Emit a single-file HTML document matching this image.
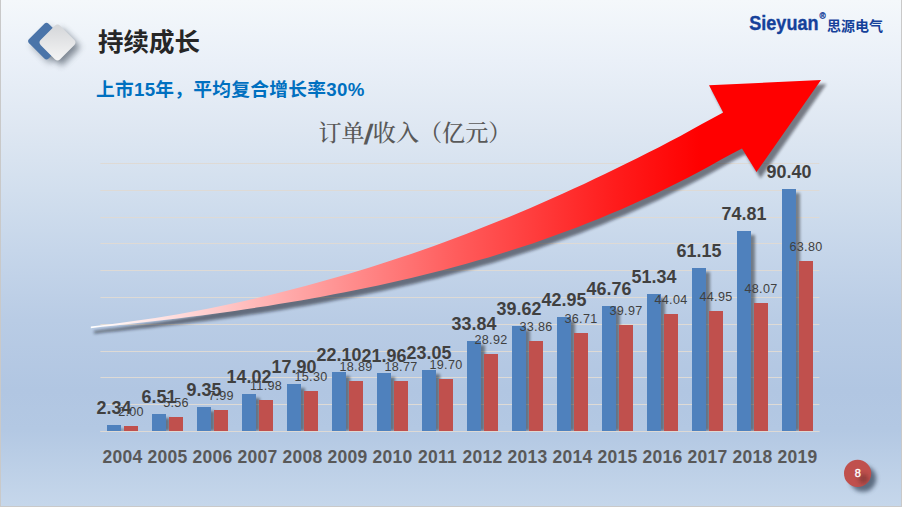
<!DOCTYPE html>
<html lang="zh-CN"><head><meta charset="utf-8"><title>持续成长</title>
<style>
html,body{margin:0;padding:0;}
body{width:902px;height:507px;overflow:hidden;position:relative;
background:linear-gradient(to bottom,#f4f8fb 0px,#eaf0f8 60px,#dee7f2 130px,#d2dfee 190px,#c6d6ea 250px,#b9cce5 320px,#b1c6e2 390px,#b3c8e3 430px,#bdd0e7 470px,#c6d7eb 507px);
font-family:"Liberation Sans","Noto Sans CJK SC",sans-serif;}
svg{position:absolute;left:0;top:0;}
.edge{position:absolute;background:#c9c9c9;}
</style></head><body>
<svg width="902" height="507" viewBox="0 0 902 507">
<defs>
<linearGradient id="ag" gradientUnits="userSpaceOnUse" x1="91" y1="0" x2="700" y2="0">
<stop offset="0" stop-color="#ffffff"/>
<stop offset="0.11" stop-color="#ffe4e4"/>
<stop offset="0.33" stop-color="#ffa8a8"/>
<stop offset="0.60" stop-color="#ff5c5c"/>
<stop offset="0.86" stop-color="#ff1c1c"/>
<stop offset="1" stop-color="#ff0000"/>
</linearGradient>
<linearGradient id="dg" x1="0" y1="0" x2="1" y2="1">
<stop offset="0" stop-color="#d3d5d8"/>
<stop offset="1" stop-color="#f6f6f6"/>
</linearGradient>
<filter id="bsh" x="-50%" y="-10%" width="250%" height="130%">
<feGaussianBlur stdDeviation="1.4"/>
</filter>
<filter id="ash" x="-5%" y="-10%" width="115%" height="130%">
<feGaussianBlur stdDeviation="1.7"/>
</filter>
<filter id="dsh" x="-40%" y="-40%" width="200%" height="200%">
<feGaussianBlur stdDeviation="3"/>
</filter>
<filter id="csh" x="-50%" y="-50%" width="220%" height="220%">
<feGaussianBlur stdDeviation="2.2"/>
</filter>
</defs>

<g stroke="#dedad5" stroke-width="1" fill="none">
<line x1="100.4" y1="431.50" x2="819.4" y2="431.50"/>
<line x1="100.4" y1="404.50" x2="819.4" y2="404.50"/>
<line x1="100.4" y1="377.50" x2="819.4" y2="377.50"/>
<line x1="100.4" y1="351.50" x2="819.4" y2="351.50"/>
<line x1="100.4" y1="324.50" x2="819.4" y2="324.50"/>
<line x1="100.4" y1="297.50" x2="819.4" y2="297.50"/>
<line x1="100.4" y1="270.50" x2="819.4" y2="270.50"/>
<line x1="100.4" y1="243.50" x2="819.4" y2="243.50"/>
<line x1="100.4" y1="217.50" x2="819.4" y2="217.50"/>
<line x1="100.4" y1="190.50" x2="819.4" y2="190.50"/>
<line x1="100.4" y1="163.50" x2="819.4" y2="163.50"/>
</g>
<clipPath id="bc"><rect x="0" y="0" width="902" height="431"/></clipPath>
<g clip-path="url(#bc)"><g fill="#000000" opacity="0.42" filter="url(#bsh)">
<rect x="111.00" y="429.00" width="14" height="2.00"/>
<rect x="156.00" y="418.00" width="14" height="13.00"/>
<rect x="201.00" y="411.00" width="14" height="20.00"/>
<rect x="246.00" y="398.00" width="14" height="33.00"/>
<rect x="291.00" y="388.00" width="14" height="43.00"/>
<rect x="336.00" y="376.00" width="14" height="55.00"/>
<rect x="381.00" y="377.00" width="14" height="54.00"/>
<rect x="426.00" y="374.00" width="14" height="57.00"/>
<rect x="471.00" y="345.00" width="14" height="86.00"/>
<rect x="516.00" y="330.00" width="14" height="101.00"/>
<rect x="561.00" y="321.00" width="14" height="110.00"/>
<rect x="606.00" y="310.00" width="14" height="121.00"/>
<rect x="651.00" y="298.00" width="14" height="133.00"/>
<rect x="696.00" y="272.00" width="14" height="159.00"/>
<rect x="741.00" y="235.00" width="14" height="196.00"/>
<rect x="786.00" y="193.00" width="14" height="238.00"/>
</g></g>
<rect x="107.00" y="425.00" width="14" height="6.00" fill="#4f81bd"/>
<rect x="124.00" y="426.00" width="14" height="5.00" fill="#c0504d"/>
<rect x="152.00" y="414.00" width="14" height="17.00" fill="#4f81bd"/>
<rect x="169.00" y="417.00" width="14" height="14.00" fill="#c0504d"/>
<rect x="197.00" y="407.00" width="14" height="24.00" fill="#4f81bd"/>
<rect x="214.00" y="410.00" width="14" height="21.00" fill="#c0504d"/>
<rect x="242.00" y="394.00" width="14" height="37.00" fill="#4f81bd"/>
<rect x="259.00" y="400.00" width="14" height="31.00" fill="#c0504d"/>
<rect x="287.00" y="384.00" width="14" height="47.00" fill="#4f81bd"/>
<rect x="304.00" y="391.00" width="14" height="40.00" fill="#c0504d"/>
<rect x="332.00" y="372.00" width="14" height="59.00" fill="#4f81bd"/>
<rect x="349.00" y="381.00" width="14" height="50.00" fill="#c0504d"/>
<rect x="377.00" y="373.00" width="14" height="58.00" fill="#4f81bd"/>
<rect x="394.00" y="381.00" width="14" height="50.00" fill="#c0504d"/>
<rect x="422.00" y="370.00" width="14" height="61.00" fill="#4f81bd"/>
<rect x="439.00" y="379.00" width="14" height="52.00" fill="#c0504d"/>
<rect x="467.00" y="341.00" width="14" height="90.00" fill="#4f81bd"/>
<rect x="484.00" y="354.00" width="14" height="77.00" fill="#c0504d"/>
<rect x="512.00" y="326.00" width="14" height="105.00" fill="#4f81bd"/>
<rect x="529.00" y="341.00" width="14" height="90.00" fill="#c0504d"/>
<rect x="557.00" y="317.00" width="14" height="114.00" fill="#4f81bd"/>
<rect x="574.00" y="333.00" width="14" height="98.00" fill="#c0504d"/>
<rect x="602.00" y="306.00" width="14" height="125.00" fill="#4f81bd"/>
<rect x="619.00" y="325.00" width="14" height="106.00" fill="#c0504d"/>
<rect x="647.00" y="294.00" width="14" height="137.00" fill="#4f81bd"/>
<rect x="664.00" y="314.00" width="14" height="117.00" fill="#c0504d"/>
<rect x="692.00" y="268.00" width="14" height="163.00" fill="#4f81bd"/>
<rect x="709.00" y="311.00" width="14" height="120.00" fill="#c0504d"/>
<rect x="737.00" y="231.00" width="14" height="200.00" fill="#4f81bd"/>
<rect x="754.00" y="303.00" width="14" height="128.00" fill="#c0504d"/>
<rect x="782.00" y="189.00" width="14" height="242.00" fill="#4f81bd"/>
<rect x="799.00" y="261.00" width="14" height="170.00" fill="#c0504d"/>
<line x1="100.4" y1="431.5" x2="819.4" y2="431.5" stroke="#dedad5" stroke-width="1"/>
<g font-family="'Liberation Sans',sans-serif" text-anchor="middle">
<g font-size="17.9" font-weight="bold" fill="#404040">
<text x="114.0" y="413.8">2.34</text>
<text x="159.0" y="402.8">6.51</text>
<text x="204.0" y="395.8">9.35</text>
<text x="249.0" y="382.8">14.02</text>
<text x="294.0" y="372.8">17.90</text>
<text x="339.0" y="360.8">22.10</text>
<text x="384.0" y="361.8">21.96</text>
<text x="429.0" y="358.8">23.05</text>
<text x="474.0" y="329.8">33.84</text>
<text x="519.0" y="314.8">39.62</text>
<text x="564.0" y="305.8">42.95</text>
<text x="609.0" y="294.8">46.76</text>
<text x="654.0" y="282.8">51.34</text>
<text x="699.0" y="256.8">61.15</text>
<text x="744.0" y="219.8">74.81</text>
<text x="789.0" y="177.8">90.40</text>
</g>
<g font-size="12.6" fill="#404040" letter-spacing="0.3">
<text x="131.0" y="416.1">2.00</text>
<text x="176.0" y="407.1">5.56</text>
<text x="221.0" y="400.1">7.99</text>
<text x="266.0" y="390.1">11.98</text>
<text x="311.0" y="381.1">15.30</text>
<text x="356.0" y="371.1">18.89</text>
<text x="401.0" y="371.1">18.77</text>
<text x="446.0" y="369.1">19.70</text>
<text x="491.0" y="344.1">28.92</text>
<text x="536.0" y="331.1">33.86</text>
<text x="581.0" y="323.1">36.71</text>
<text x="626.0" y="315.1">39.97</text>
<text x="671.0" y="304.1">44.04</text>
<text x="716.0" y="301.1">44.95</text>
<text x="761.0" y="293.1">48.07</text>
<text x="806.0" y="251.1">63.80</text>
</g>
<g font-size="17.5" font-weight="bold" fill="#595959" letter-spacing="0.3">
<text x="122.5" y="462.5">2004</text>
<text x="167.5" y="462.5">2005</text>
<text x="212.5" y="462.5">2006</text>
<text x="257.5" y="462.5">2007</text>
<text x="302.5" y="462.5">2008</text>
<text x="347.5" y="462.5">2009</text>
<text x="392.5" y="462.5">2010</text>
<text x="437.5" y="462.5">2011</text>
<text x="482.5" y="462.5">2012</text>
<text x="527.5" y="462.5">2013</text>
<text x="572.5" y="462.5">2014</text>
<text x="617.5" y="462.5">2015</text>
<text x="662.5" y="462.5">2016</text>
<text x="707.5" y="462.5">2017</text>
<text x="752.5" y="462.5">2018</text>
<text x="797.5" y="462.5">2019</text>
</g>
</g>
<path d="M90.8,326.6 L101.7,325.2 L112.4,323.9 L123.2,322.5 L133.9,321.0 L144.6,319.5 L155.3,317.9 L166.0,316.2 L176.7,314.4 L187.5,312.6 L198.2,310.6 L208.9,308.5 L219.6,306.3 L230.3,304.1 L241.0,301.7 L251.8,299.3 L262.5,296.8 L273.2,294.2 L283.9,291.6 L294.6,288.8 L305.3,286.0 L316.1,283.1 L326.8,280.1 L337.5,277.0 L348.2,273.9 L358.9,270.7 L369.6,267.4 L380.4,264.1 L391.1,260.6 L401.8,257.1 L412.5,253.5 L423.2,249.8 L433.9,245.9 L444.7,242.0 L455.4,238.0 L466.1,234.0 L476.8,229.8 L487.5,225.6 L498.2,221.3 L509.0,216.9 L519.7,212.4 L530.4,207.9 L541.1,203.2 L551.8,198.5 L562.5,193.7 L573.3,188.8 L584.0,183.9 L594.7,178.8 L605.4,173.7 L616.1,168.6 L626.8,163.3 L637.6,158.0 L648.3,152.6 L659.0,147.2 L669.7,141.6 L680.4,135.9 L691.1,130.0 L701.9,124.1 L712.6,118.2 L723.2,112.6 L709,85.3 L821,80 L756.5,172 L742.0,148.6 L731.4,153.9 L720.3,160.1 L709.3,166.2 L698.2,172.2 L687.2,178.0 L676.2,183.6 L665.1,189.1 L654.1,194.4 L643.0,199.5 L632.0,204.5 L621.0,209.4 L609.9,214.1 L598.9,218.7 L587.8,223.1 L576.8,227.4 L565.7,231.6 L554.7,235.6 L543.7,239.6 L532.6,243.4 L521.6,247.1 L510.5,250.6 L499.5,254.1 L488.5,257.4 L477.4,260.6 L466.4,263.8 L455.3,266.8 L444.3,269.7 L433.3,272.6 L422.2,275.3 L411.2,277.9 L400.1,280.5 L389.1,283.0 L378.1,285.4 L367.0,287.7 L356.0,290.0 L344.9,292.2 L333.9,294.3 L322.9,296.4 L311.8,298.4 L300.8,300.4 L289.7,302.3 L278.7,304.1 L267.7,305.9 L256.6,307.6 L245.6,309.3 L234.5,310.9 L223.5,312.4 L212.4,313.9 L201.4,315.4 L190.4,316.8 L179.3,318.2 L168.3,319.5 L157.2,320.8 L146.2,322.1 L135.2,323.3 L124.1,324.5 L113.1,325.7 L102.0,326.8 L90.8,328.2 Z" fill="#0c1016" stroke="#0c1016" stroke-width="1.5" opacity="0.5" filter="url(#ash)" transform="translate(4,4.8)"/>
<path d="M90.8,326.6 L101.7,325.2 L112.4,323.9 L123.2,322.5 L133.9,321.0 L144.6,319.5 L155.3,317.9 L166.0,316.2 L176.7,314.4 L187.5,312.6 L198.2,310.6 L208.9,308.5 L219.6,306.3 L230.3,304.1 L241.0,301.7 L251.8,299.3 L262.5,296.8 L273.2,294.2 L283.9,291.6 L294.6,288.8 L305.3,286.0 L316.1,283.1 L326.8,280.1 L337.5,277.0 L348.2,273.9 L358.9,270.7 L369.6,267.4 L380.4,264.1 L391.1,260.6 L401.8,257.1 L412.5,253.5 L423.2,249.8 L433.9,245.9 L444.7,242.0 L455.4,238.0 L466.1,234.0 L476.8,229.8 L487.5,225.6 L498.2,221.3 L509.0,216.9 L519.7,212.4 L530.4,207.9 L541.1,203.2 L551.8,198.5 L562.5,193.7 L573.3,188.8 L584.0,183.9 L594.7,178.8 L605.4,173.7 L616.1,168.6 L626.8,163.3 L637.6,158.0 L648.3,152.6 L659.0,147.2 L669.7,141.6 L680.4,135.9 L691.1,130.0 L701.9,124.1 L712.6,118.2 L723.2,112.6 L709,85.3 L821,80 L756.5,172 L742.0,148.6 L731.4,153.9 L720.3,160.1 L709.3,166.2 L698.2,172.2 L687.2,178.0 L676.2,183.6 L665.1,189.1 L654.1,194.4 L643.0,199.5 L632.0,204.5 L621.0,209.4 L609.9,214.1 L598.9,218.7 L587.8,223.1 L576.8,227.4 L565.7,231.6 L554.7,235.6 L543.7,239.6 L532.6,243.4 L521.6,247.1 L510.5,250.6 L499.5,254.1 L488.5,257.4 L477.4,260.6 L466.4,263.8 L455.3,266.8 L444.3,269.7 L433.3,272.6 L422.2,275.3 L411.2,277.9 L400.1,280.5 L389.1,283.0 L378.1,285.4 L367.0,287.7 L356.0,290.0 L344.9,292.2 L333.9,294.3 L322.9,296.4 L311.8,298.4 L300.8,300.4 L289.7,302.3 L278.7,304.1 L267.7,305.9 L256.6,307.6 L245.6,309.3 L234.5,310.9 L223.5,312.4 L212.4,313.9 L201.4,315.4 L190.4,316.8 L179.3,318.2 L168.3,319.5 L157.2,320.8 L146.2,322.1 L135.2,323.3 L124.1,324.5 L113.1,325.7 L102.0,326.8 L90.8,328.2 Z" fill="url(#ag)"/>
<g font-family="'Liberation Serif','Noto Serif CJK SC',serif" font-size="23.1" font-weight="500" fill="#595959">
<text x="318.5" y="141.3">订单</text>
<text x="372.8" y="141.3">收入（亿元）</text>
</g>
<text transform="translate(363.6,143.6) skewX(-7)" font-family="'Liberation Sans',sans-serif" font-weight="bold" font-size="28" fill="#595959">/</text>
<g>
<rect x="-13.8" y="-13.8" width="27.6" height="27.6" rx="3" transform="translate(49.5,45) rotate(45)" fill="#3d4856" opacity="0.4" filter="url(#dsh)"/>
<rect x="-13.7" y="-13.7" width="27.4" height="27.4" rx="3" transform="translate(61.5,47) rotate(45)" fill="#3d4856" opacity="0.6" filter="url(#dsh)"/>
<rect x="-13.8" y="-13.8" width="27.6" height="27.6" rx="3" transform="translate(46.5,41.1) rotate(45)" fill="#4a74a9"/>
<rect x="-13.7" y="-13.7" width="27.4" height="27.4" rx="3.8" transform="translate(57.5,42.5) rotate(45)" fill="url(#dg)"/>
</g>
<text x="98" y="50.5" font-family="'Liberation Sans','Noto Sans CJK SC',sans-serif" font-weight="bold" font-size="25.5" fill="#262626">持续成长</text>
<text x="96" y="96" font-family="'Liberation Sans','Noto Sans CJK SC',sans-serif" font-weight="bold" font-size="18.7" letter-spacing="0.3" fill="#0070c0">上市15年，平均复合增长率30%</text>
<g fill="#15419a" font-weight="bold">
<text transform="translate(749.3,29.5) scale(0.93,1)" font-family="'Liberation Sans',sans-serif" font-size="19.4" stroke="#15419a" stroke-width="0.35">Sieyuan</text>
<text x="819.6" y="18.9" font-family="'Liberation Sans',sans-serif" font-size="8.4" stroke="#15419a" stroke-width="0.3">®</text>
<text x="827" y="30.5" font-family="'Liberation Sans','Noto Sans CJK SC',sans-serif" font-size="14">思源电气</text>
</g>
<clipPath id="cc"><circle cx="857.6" cy="473.4" r="13.6"/></clipPath>
<circle cx="863" cy="478.6" r="13.2" fill="#3f4f63" opacity="0.78" filter="url(#csh)"/>
<circle cx="857.6" cy="473.4" r="13.6" fill="#c0504d"/>
<g clip-path="url(#cc)"><circle cx="863.5" cy="479" r="5" fill="#5a2a2a" opacity="0.45" filter="url(#csh)"/></g>
<text x="857.8" y="476.9" text-anchor="middle" font-family="'Liberation Sans',sans-serif" font-size="11" fill="#ffffff" stroke="#ffffff" stroke-width="0.35">8</text>
</svg>
<div class="edge" style="left:0;top:0;width:1px;height:507px"></div>
<div class="edge" style="right:0;top:0;width:1px;height:507px"></div>
<div class="edge" style="left:0;bottom:0;width:902px;height:1px"></div>
</body></html>
